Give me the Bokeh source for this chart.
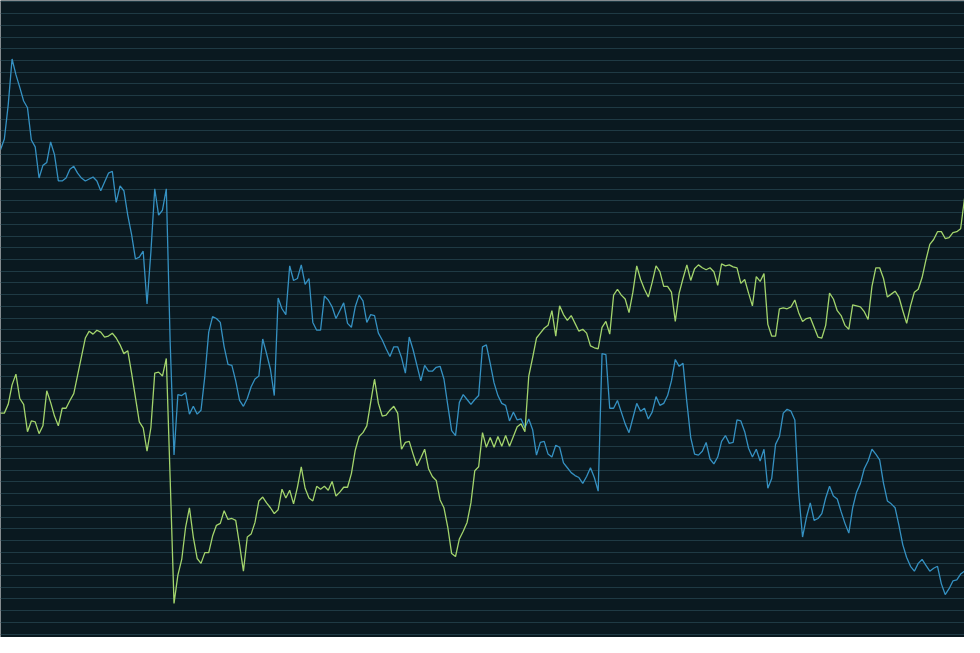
import numpy as np
from bokeh.plotting import figure
from bokeh.models import Range1d, FixedTicker
from bokeh.embed import file_html
from bokeh.resources import INLINE

# Two index series sampled on the same 251 sessions
blue_series = [
    500, 511, 546, 593, 577, 564, 550, 543, 510, 503, 471, 484, 487, 508, 495, 468, 468, 471, 480, 483,
    476, 471, 468, 470, 472, 468, 458, 467, 476, 478, 446, 463, 458, 433, 413, 388, 390, 396, 342, 395,
    460, 433, 438, 460, 303, 187, 249, 248, 251, 229, 237, 229, 233, 268, 313, 329, 327, 323, 298, 280,
    279, 263, 243, 237, 245, 257, 265, 268, 306, 291, 275, 248, 348, 337, 331, 381, 366, 368, 382, 362,
    368, 323, 315, 315, 350, 346, 339, 327, 335, 343, 322, 318, 339, 351, 345, 323, 331, 330, 312, 305,
    296, 288, 298, 298, 287, 271, 308, 295, 279, 263, 279, 273, 273, 277, 278, 265, 238, 212, 207, 241,
    249, 244, 239, 244, 248, 298, 300, 281, 261, 248, 240, 238, 222, 231, 223, 224, 215, 224, 213, 187,
    200, 201, 188, 185, 197, 195, 179, 174, 169, 166, 164, 158, 165, 174, 164, 150, 291, 290, 235, 235,
    243, 231, 219, 210, 225, 240, 232, 235, 224, 231, 247, 238, 240, 248, 263, 285, 278, 281, 241, 205,
    188, 187, 191, 200, 183, 178, 185, 201, 207, 199, 200, 223, 222, 211, 194, 185, 193, 181, 193, 153,
    163, 198, 206, 230, 234, 232, 223, 148, 103, 123, 138, 120, 122, 127, 143, 155, 145, 142, 129, 117,
    107, 133, 149, 158, 173, 181, 193, 188, 182, 158, 140, 137, 133, 115, 95, 82, 73, 68, 76, 80,
    74, 68, 71, 73, 55, 44, 50, 58, 59, 65, 68,
]

green_series = [
    230, 230, 239, 259, 270, 245, 239, 211, 222, 221, 209, 217, 253, 241, 227, 217, 235, 235, 243, 250,
    269, 288, 307, 314, 311, 315, 313, 308, 309, 312, 307, 300, 291, 294, 271, 246, 221, 215, 191, 215,
    271, 272, 268, 286, 163, 35, 64, 80, 113, 133, 103, 81, 76, 87, 87, 104, 115, 117, 130, 121,
    122, 120, 95, 68, 103, 106, 118, 140, 144, 138, 133, 127, 131, 152, 143, 151, 137, 154, 175, 153,
    143, 140, 155, 152, 155, 151, 160, 145, 149, 154, 154, 168, 192, 206, 210, 217, 241, 265, 240, 227,
    228, 233, 237, 230, 193, 200, 201, 188, 176, 184, 193, 173, 165, 161, 141, 133, 113, 86, 83, 101,
    109, 118, 138, 171, 175, 210, 195, 205, 195, 206, 196, 207, 196, 206, 216, 219, 211, 268, 287, 307,
    312, 317, 320, 335, 309, 340, 331, 325, 330, 322, 314, 316, 312, 299, 297, 296, 318, 324, 311, 351,
    357, 351, 347, 333, 354, 381, 367, 357, 349, 364, 381, 375, 360, 360, 354, 324, 353, 368, 382, 366,
    378, 382, 379, 377, 379, 375, 361, 383, 381, 382, 380, 379, 363, 367, 353, 340, 370, 365, 373, 321,
    309, 309, 337, 338, 337, 339, 346, 333, 324, 327, 328, 318, 308, 307, 320, 353, 347, 335, 330, 320,
    316, 341, 340, 339, 334, 326, 360, 379, 379, 368, 349, 352, 355, 349, 335, 322, 340, 354, 357, 369,
    387, 403, 408, 416, 416, 409, 410, 415, 416, 419, 450,
]

sessions = list(range(len(blue_series)))

# value scale and guide lines
value_min, value_max = 0, 653
guide_step = 12
guide_start = 3.5

BG = "#0a1920"
GRID = "#1f3a44"
BLUE = "#3591c2"
GREEN = "#a3d46c"

p = figure(
    width=964, height=637,
    output_backend="svg", toolbar_location=None,
    x_range=Range1d(0, len(sessions) - 1),
    y_range=Range1d(value_min, value_max),
    min_border=0,
)
p.background_fill_color = BG
p.border_fill_color = BG
p.outline_line_color = None
p.xaxis.visible = False
p.yaxis.visible = False
p.xgrid.visible = False
p.ygrid.ticker = FixedTicker(ticks=list(np.arange(guide_start, value_max, guide_step)))
p.ygrid.grid_line_color = GRID
p.ygrid.grid_line_width = 1.2

p.line(sessions, blue_series, line_color=BLUE, line_width=1.3)
p.line(sessions, green_series, line_color=GREEN, line_width=1.3)

open("out.html", "w").write(file_html(p, INLINE))
